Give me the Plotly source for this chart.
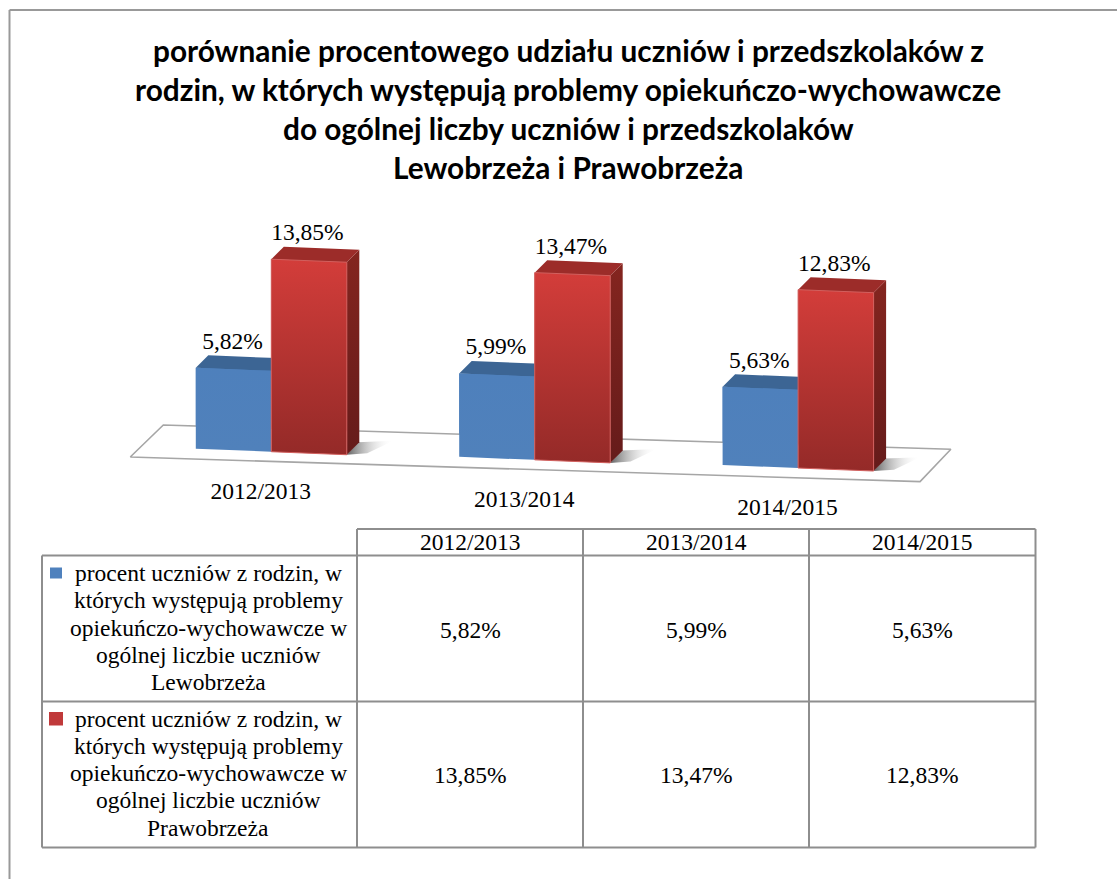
import plotly.graph_objects as go

# ---------- data ----------
years = ["2012/2013", "2013/2014", "2014/2015"]
lewobrzeze = [5.82, 5.99, 5.63]
prawobrzeze = [13.85, 13.47, 12.83]
title_lines = [
    "porównanie procentowego udziału uczniów i przedszkolaków z",
    "rodzin, w których występują problemy opiekuńczo-wychowawcze",
    "do ogólnej liczby uczniów i przedszkolaków",
    "Lewobrzeża i Prawobrzeża",
]
legend_left = ["procent uczniów z rodzin, w", "których występują problemy",
               "opiekuńczo-wychowawcze w", "ogólnej liczbie uczniów", "Lewobrzeża"]
legend_right = ["procent uczniów z rodzin, w", "których występują problemy",
                "opiekuńczo-wychowawcze w", "ogólnej liczbie uczniów", "Prawobrzeża"]

# ---------- page and scales ----------
W, H = 1117, 879
SERIF = "Liberation Serif"
TITLE_FONT = "Lato"
SERIF_SIZE = 23.5
GREY = "#8e8e8e"
PX_X = 263.4           # pixels per category
PX_Y = 13.9            # pixels per percentage point
ORIGIN_X, ORIGIN_Y = 271.3, 448.7
BAR_W = 75.5 / PX_X
DEPTH_X = 12.5 / PX_X
DEPTH_Y = 12.5 / PX_Y
DROP_PER_CAT = 8.15 / PX_Y     # floor falls towards the right in perspective
TILT = 0.04 * PX_X / PX_Y      # local tilt of a bar front


def fmt(v):
    return f"{v:.2f}".replace(".", ",") + "%"


def px(x):
    return x / W


def py(y):
    return 1 - y / H


def floor(cat, dx):
    """Floor height under the point dx categories right of a group's blue left edge."""
    return -(DROP_PER_CAT * cat + TILT * dx)


def poly(xs, ys, fill=None, gradient=None, line=None):
    t = go.Scatter(x=xs + xs[:1], y=ys + ys[:1], mode="lines", fill="toself",
                   line=dict(color=line or "rgba(0,0,0,0)", width=1 if line else 0),
                   hoverinfo="skip", showlegend=False)
    if fill:
        t.fillcolor = fill
    if gradient:
        t.fillgradient = gradient
    return t


def vgrad(top, bottom):
    return dict(type="vertical", colorscale=[[0, bottom], [1, top]])


fig = go.Figure()

# floor plate
fig.add_trace(go.Scatter(
    x=[-0.5355, -0.41, 2.58, 2.463, -0.5355],
    y=[-0.6, 1.705, -0.04, -2.37, -0.6],
    mode="lines", fill="toself", fillcolor="#ffffff",
    line=dict(color="#a6a6a6", width=1.6), hoverinfo="skip", showlegend=False))

cats = list(range(len(years)))

# real bars, front faces
blue_base = [floor(c, 0) for c in cats]
red_base = [floor(c, BAR_W) for c in cats]
fig.add_trace(go.Bar(x=[c - BAR_W / 2 for c in cats], y=lewobrzeze, base=blue_base, width=BAR_W,
                     marker=dict(color="#4f81bd", line=dict(width=0)), name="Lewobrzeże",
                     showlegend=False))
fig.add_trace(go.Bar(x=[c + BAR_W / 2 for c in cats], y=prawobrzeze, base=red_base, width=BAR_W,
                     marker=dict(color="#b53432", line=dict(width=0)), name="Prawobrzeże",
                     showlegend=False))

# perspective faces derived from the same values
for c, v_b, v_r in zip(cats, lewobrzeze, prawobrzeze):
    xl, xm, xr = c - BAR_W, c, c + BAR_W
    fl, fm, fr = floor(c, 0), floor(c, BAR_W), floor(c, 2 * BAR_W)
    # shadow right of the red bar
    fig.add_trace(poly([xr + DEPTH_X - 0.005, xr + DEPTH_X + 0.13, xr + DEPTH_X + 0.03, xr],
                       [fr + DEPTH_Y, fr + DEPTH_Y + 0.1, fr + 0.1, fr],
                       gradient=dict(type="horizontal",
                                     colorscale=[[0, "rgba(70,70,70,0.85)"], [1, "rgba(255,255,255,0)"]])))
    # blue top and front
    fig.add_trace(poly([xl, xl + DEPTH_X, xm + DEPTH_X, xm],
                       [fl + v_b, fl + v_b + DEPTH_Y, fm + v_b + DEPTH_Y, fm + v_b], fill="#3c6594"))
    fig.add_trace(poly([xl, xm, xm, xl], [fl + v_b, fm + v_b, fm, fl],
                       gradient=vgrad("#4e80bc", "#5081bb")))
    # red side, top, front
    fig.add_trace(poly([xr, xr + DEPTH_X, xr + DEPTH_X, xr],
                       [fr + v_r, fr + v_r + DEPTH_Y, fr + DEPTH_Y, fr],
                       gradient=vgrad("#84251f", "#651b1a")))
    fig.add_trace(poly([xm, xm + DEPTH_X, xr + DEPTH_X, xr],
                       [fm + v_r, fm + v_r + DEPTH_Y, fr + v_r + DEPTH_Y, fr + v_r], fill="#9c2c29"))
    fig.add_trace(poly([xm, xr, xr, xm], [fm + v_r, fr + v_r, fr, fm],
                       gradient=vgrad("#d33d3a", "#942a28"), line="#d2605e"))

# data labels
LABEL_GAP = 25 / PX_Y
label_x, label_y, label_t = [], [], []
for c in cats:
    label_x += [c - BAR_W / 2 - 0.004, c + BAR_W / 2 - 0.006]
    label_y += [floor(c, 0) + lewobrzeze[c] + LABEL_GAP, floor(c, BAR_W) + prawobrzeze[c] + LABEL_GAP]
    label_t += [fmt(lewobrzeze[c]), fmt(prawobrzeze[c])]
fig.add_trace(go.Scatter(x=label_x, y=label_y, text=label_t, mode="text", textposition="middle center",
                         textfont=dict(family=SERIF, size=SERIF_SIZE, color="#000000"),
                         hoverinfo="skip", showlegend=False))

# category labels sit along the perspective floor
fig.add_trace(go.Scatter(x=[c - 0.04 for c in cats], y=[floor(c, 0) - 3.2 for c in cats],
                         text=years, mode="text", textposition="middle center",
                         textfont=dict(family=SERIF, size=SERIF_SIZE, color="#000000"),
                         hoverinfo="skip", showlegend=False))


# ---------- text and table ----------
def add_text(text, x, y, font=SERIF, size=SERIF_SIZE, bold=False):
    fig.add_annotation(xref="paper", yref="paper", x=px(x), y=py(y), text=f"<b>{text}</b>" if bold else text,
                       showarrow=False, xanchor="center", yanchor="middle",
                       font=dict(family=font, size=size, color="#000000"), borderpad=0)


for i, line in enumerate(title_lines):
    add_text(line, 568, 51 + 39 * i, font=TITLE_FONT, size=29.8, bold=True)

col_x = [42, 357, 583, 809, 1035.5]
row_y = [529, 555.5, 701.5, 847.5]
shapes = []


def hline(x0, x1, y, color=GREY, width=2):
    shapes.append(dict(type="line", xref="paper", yref="paper", x0=px(x0), x1=px(x1), y0=py(y), y1=py(y),
                       line=dict(color=color, width=width)))


def vline(x, y0, y1, color=GREY, width=2):
    shapes.append(dict(type="line", xref="paper", yref="paper", x0=px(x), x1=px(x), y0=py(y0), y1=py(y1),
                       line=dict(color=color, width=width)))


# chart frame: only left and top edges fall inside the picture
hline(9.5, W, 10, color="#999999", width=2)
vline(9.5, 10, H, color="#999999", width=2)

hline(col_x[1], col_x[4], row_y[0])
for y in row_y[1:]:
    hline(col_x[0], col_x[4], y)
vline(col_x[0], row_y[1], row_y[3])
for x in col_x[1:]:
    vline(x, row_y[0], row_y[3])

shapes.append(dict(type="rect", xref="paper", yref="paper", x0=px(50), x1=px(62), y0=py(567.5), y1=py(578.5),
                   fillcolor="#4f81bd", line=dict(width=0)))
shapes.append(dict(type="rect", xref="paper", yref="paper", x0=px(49), x1=px(63), y0=py(712), y1=py(725.5),
                   fillcolor="#c0393a", line=dict(width=0)))

for i, y_lab in enumerate(years):
    cx = (col_x[i + 1] + col_x[i + 2]) / 2
    add_text(y_lab, cx, 541.5)
    add_text(fmt(lewobrzeze[i]), cx, 629.5)
    add_text(fmt(prawobrzeze[i]), cx, 775)

for block, top in ((legend_left, 573), (legend_right, 718.5)):
    for j, line in enumerate(block):
        add_text(line, 208, top + 27.3 * j)

fig.update_layout(
    width=W, height=H, autosize=False,
    margin=dict(l=0, r=0, t=0, b=0),
    paper_bgcolor="#ffffff", plot_bgcolor="#ffffff",
    barmode="overlay", showlegend=False, shapes=shapes,
    xaxis=dict(range=[-ORIGIN_X / PX_X, (W - ORIGIN_X) / PX_X], visible=False, domain=[0, 1]),
    yaxis=dict(range=[(ORIGIN_Y - H) / PX_Y, ORIGIN_Y / PX_Y], visible=False, domain=[0, 1]),
)
fig.write_html("out.html", config=dict(displayModeBar=False),
               post_script="document.body.style.margin='0';document.documentElement.style.overflow='hidden';")
